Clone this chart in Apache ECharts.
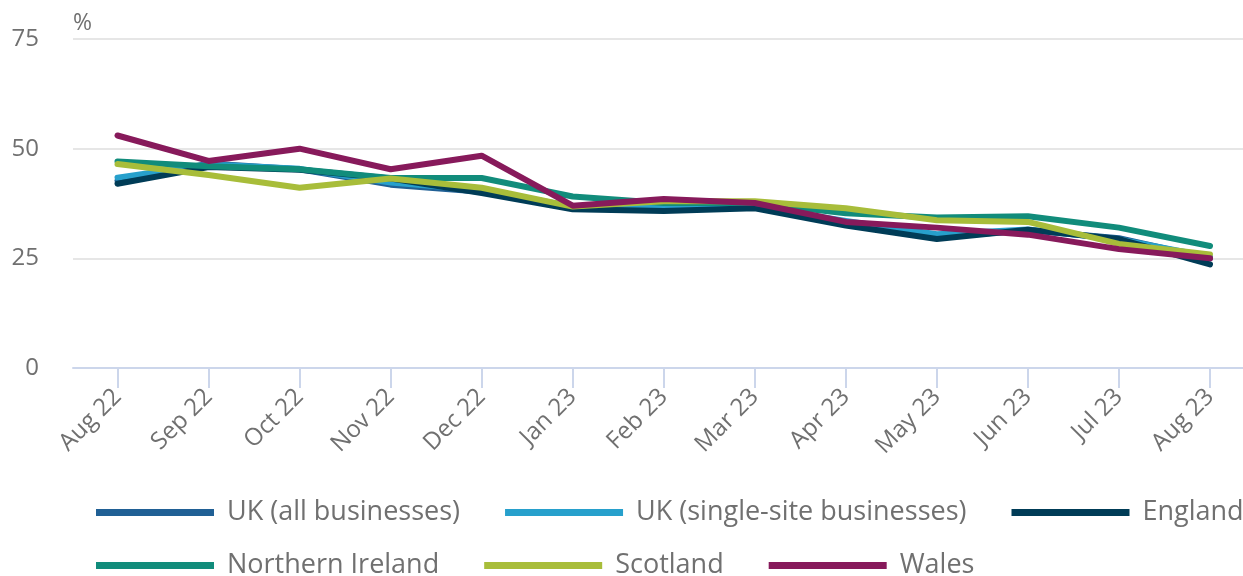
<!DOCTYPE html>
<html>
<head>
<meta charset="utf-8">
<script src="https://cdn.jsdelivr.net/npm/echarts@6/dist/echarts.min.js"></script>
<style>
html,body{margin:0;padding:0;background:#fff;}
#chart{width:1243px;height:576px;}
</style>
</head>
<body>
<div id="chart"></div>
<script>
const categories = ['Aug 22','Sep 22','Oct 22','Nov 22','Dec 22','Jan 23','Feb 23','Mar 23','Apr 23','May 23','Jun 23','Jul 23','Aug 23'];
const ukAll    = [42.7, 46.6, 45.3, 41.8, 40.2, 36.5, 36.2, 36.7, 33.0, 29.8, 31.4, 29.6, 25.0];
const ukSingle = [43.4, 46.4, 45.4, 42.3, 40.6, 36.8, 36.5, 36.9, 33.5, 30.5, 31.6, 29.3, 25.4];
const england  = [42.0, 45.8, 45.2, 43.2, 39.9, 36.2, 35.8, 36.4, 32.5, 29.4, 31.5, 29.4, 23.6];
const nIreland = [47.1, 46.0, 45.3, 43.3, 43.3, 39.1, 37.6, 37.6, 35.3, 34.3, 34.6, 32.0, 27.8];
const scotland = [46.5, 44.0, 41.1, 43.2, 41.1, 36.8, 38.0, 38.0, 36.4, 33.7, 33.3, 28.3, 25.9];
const wales    = [53.0, 47.2, 50.0, 45.3, 48.4, 37.0, 38.5, 37.6, 33.3, 32.0, 30.4, 27.1, 25.0];
const yTicks = [0, 25, 50, 75];

const seriesDefs = [
  {name:'UK (all businesses)', data:ukAll, color:'#206095'},
  {name:'UK (single-site businesses)', data:ukSingle, color:'#27a0cc'},
  {name:'England', data:england, color:'#003c57'},
  {name:'Northern Ireland', data:nIreland, color:'#118c7b'},
  {name:'Scotland', data:scotland, color:'#a8bd3a'},
  {name:'Wales', data:wales, color:'#871a5b'}
];

const FONT = 'Open Sans';
const TXT = '#707070';
const chart = echarts.init(document.getElementById('chart'), null, {renderer:'canvas'});

const legendBase = {
  left: 96,
  width: 1200,
  padding: 0,
  itemWidth: 118,
  itemHeight: 7,
  itemGap: 45,
  icon: 'rect',
  selectedMode: false,
  textStyle: {fontFamily: FONT, fontSize: 27, color: TXT, padding: [0,0,0,8]}
};

chart.setOption({
  animation: false,
  legend: [
    Object.assign({}, legendBase, {top: 499, data: seriesDefs.slice(0,3).map(s => s.name)}),
    Object.assign({}, legendBase, {top: 552, data: seriesDefs.slice(3).map(s => s.name)})
  ],
  grid: [
    {left: 73, right: 0, top: 39, height: 329},
    {left: 117.5, right: 33, top: 39, height: 329}
  ],
  xAxis: [
    {gridIndex: 0, type: 'value', min: 0, max: 1,
     axisLine: {show: true, lineStyle: {color: '#ccd6eb', width: 2}},
     axisTick: {show: false}, axisLabel: {show: false}, splitLine: {show: false}},
    {gridIndex: 1, type: 'category', data: categories, boundaryGap: false,
     axisLine: {show: false},
     axisTick: {show: true, length: 20, interval: 0, lineStyle: {color: '#ccd6eb', width: 2}},
     axisLabel: {interval: 0, rotate: 45, margin: 25, padding: [18,0,0,0], fontFamily: FONT, fontSize: 24, color: TXT},
     splitLine: {show: false}}
  ],
  yAxis: [
    {gridIndex: 0, type: 'value', min: yTicks[0], max: yTicks[yTicks.length-1], interval: 25,
     name: '%', nameLocation: 'end', nameGap: 4,
     nameTextStyle: {fontFamily: FONT, fontSize: 23, color: TXT, align: 'left'},
     axisLine: {show: false}, axisTick: {show: false},
     axisLabel: {margin: 34, fontFamily: FONT, fontSize: 24, color: TXT, padding: [22,0,0,0]},
     splitLine: {show: true, lineStyle: {color: '#e6e6e6', width: 2}}},
    {gridIndex: 1, type: 'value', min: yTicks[0], max: yTicks[yTicks.length-1], interval: 25,
     show: false}
  ],
  series: seriesDefs.map(s => ({
    name: s.name, type: 'line', xAxisIndex: 1, yAxisIndex: 1,
    data: s.data, symbol: 'none', color: s.color,
    lineStyle: {width: 6, color: s.color, cap: 'round', join: 'round'},
    emphasis: {disabled: true}
  }))
});
</script>
</body>
</html>
